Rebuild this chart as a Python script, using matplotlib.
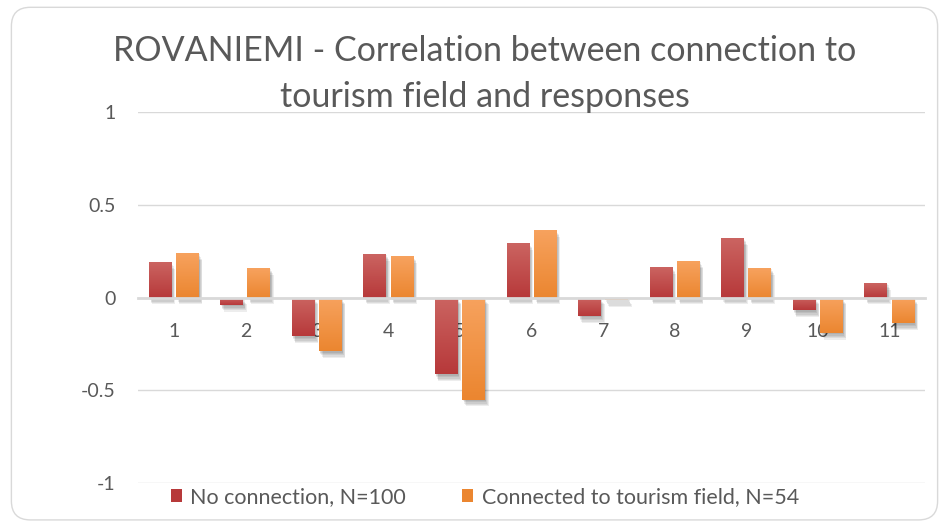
import numpy as np
import matplotlib.pyplot as plt
from matplotlib.patches import FancyBboxPatch, Patch
from matplotlib.colors import LinearSegmentedColormap
import matplotlib.patheffects as pe

plt.rcParams['font.family'] = ['Lato', 'DejaVu Sans']

# ------------------------------------------------------------------
# data
# ------------------------------------------------------------------
categories = [str(i) for i in range(1, 12)]
no_connection = [0.19, -0.04, -0.21, 0.235, -0.415, 0.295, -0.10, 0.165, 0.32, -0.07, 0.08]
connected = [0.24, 0.16, -0.29, 0.225, -0.55, 0.365, -0.015, 0.197, 0.16, -0.19, -0.14]
series_labels = ["No connection, N=100", "Connected to tourism field, N=54"]
title_lines = ["ROVANIEMI - Correlation between connection to",
               "tourism field and responses"]

red_top, red_bot = "#cb6461", "#b7393a"
org_top, org_bot = "#f7a25e", "#eb8630"
grey_txt = "#595959"

fig = plt.figure(figsize=(9.49, 5.22), dpi=100)
ax = fig.add_axes([0.1454, 0.0747, 0.8296, 0.7107])

# outer rounded chart border
fig.patches.append(FancyBboxPatch((0.012, 0.004), 0.976, 0.982,
                                  boxstyle="round,pad=0,rounding_size=0.02",
                                  transform=fig.transFigure, fc="none",
                                  ec="#d9d9d9", lw=1.0, mutation_aspect=949/522))

x = np.arange(1, len(categories) + 1)
w = 0.32
off = 0.19

# soft drop shadow, built from a few faint offset copies
shadow = [pe.SimplePatchShadow(offset=(dx, dy), shadow_rgbFace="#000000", alpha=0.07)
          for dx, dy in [(0.5, -1), (1, -2), (1.5, -3), (2, -4), (2.5, -5)]]


def gradient_bars(bars, top, bot):
    cmap = LinearSegmentedColormap.from_list("g", [bot, top])
    grad = np.linspace(0, 1, 64).reshape(-1, 1)
    for b in bars:
        x0, y0 = b.get_x(), b.get_y()
        x1, y1 = x0 + b.get_width(), y0 + b.get_height()
        lo, hi = min(y0, y1), max(y0, y1)
        im = ax.imshow(grad, cmap=cmap, aspect="auto", origin="lower",
                       extent=(x0, x1, lo, hi), zorder=3)
        im.set_clip_path(b)
        b.set_path_effects(shadow + [pe.Normal()])


b1 = ax.bar(x - off, no_connection, w, color=red_bot, zorder=2, label=series_labels[0])
b2 = ax.bar(x + off, connected, w, color=org_bot, zorder=2, label=series_labels[1])
gradient_bars(b1, red_top, red_bot)
gradient_bars(b2, org_top, org_bot)

ax.set_xlim(0.5, 11.5)
ax.set_ylim(-1, 1)
ax.set_yticks([-1, -0.5, 0, 0.5, 1])
ax.set_yticklabels(["-1", "-0.5", "0", "0.5", "1"])
ax.grid(axis="y", color="#d9d9d9", lw=1.0, zorder=0)
ax.set_axisbelow(True)

ax.set_xticks(x)
ax.set_xticklabels(categories)
ax.spines["bottom"].set_position(("data", 0))
ax.spines["bottom"].set_color("#d9d9d9")
ax.spines["bottom"].set_linewidth(2.0)
ax.spines["bottom"].set_zorder(4)
for s in ["top", "right", "left"]:
    ax.spines[s].set_visible(False)
ax.tick_params(axis="x", length=0, pad=18, labelsize=14, colors=grey_txt)
ax.tick_params(axis="y", length=0, pad=16, labelsize=14, colors=grey_txt)

# title, one text per line (second line sits just above the "1" gridline)
fig.text(0.511, 0.903, title_lines[0], ha="center", va="center", fontsize=24.5, color=grey_txt)
fig.text(0.511, 0.815, title_lines[1], ha="center", va="center", fontsize=24.5, color=grey_txt)

handles = [Patch(facecolor=red_bot, edgecolor="none"), Patch(facecolor=org_bot, edgecolor="none")]
fig.legend(handles, series_labels, loc="center", bbox_to_anchor=(0.511, 0.048), ncol=2,
           frameon=False, fontsize=15.5, labelcolor=grey_txt, handlelength=0.5,
           handleheight=0.55, handletextpad=0.4, columnspacing=2.6)

fig.savefig("out.png", dpi=100)
